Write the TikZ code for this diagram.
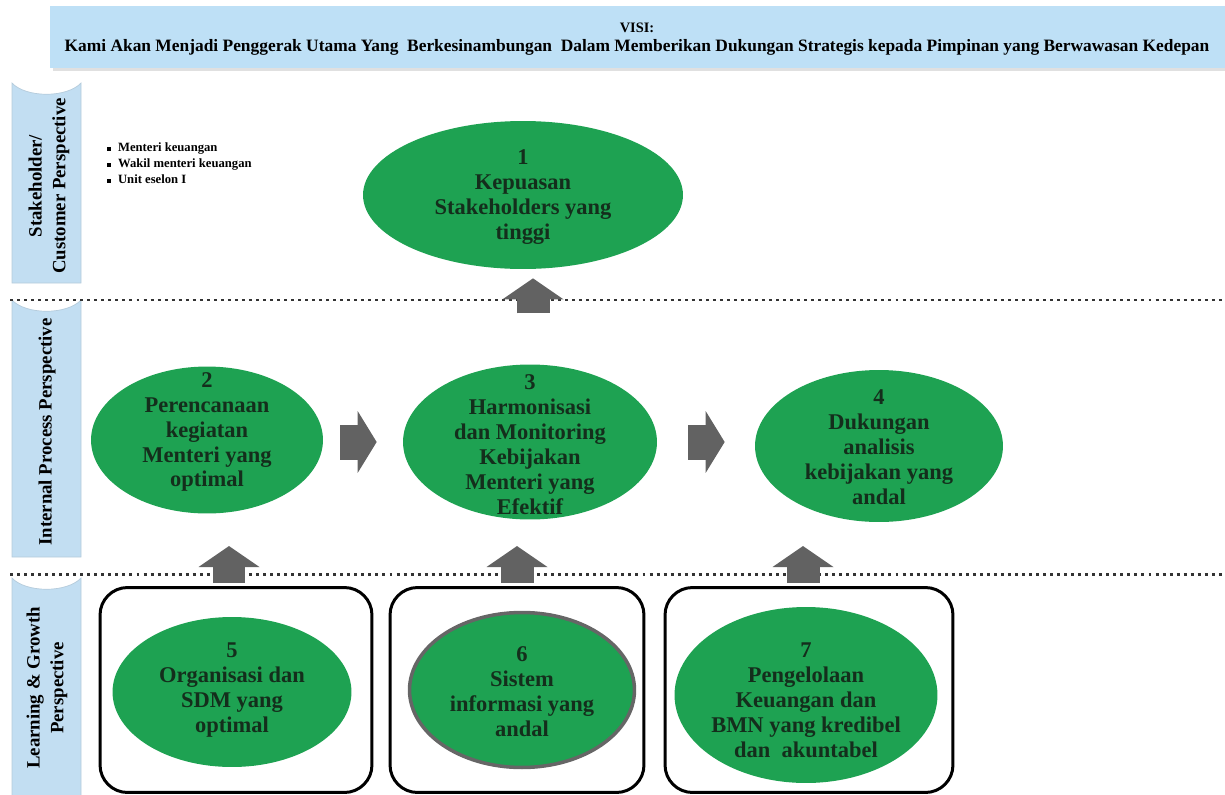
\documentclass[tikz,border=0pt]{standalone}
\usepackage{fontspec}
\setmainfont{Liberation Serif}
\usetikzlibrary{shapes.geometric,arrows.meta,calc,positioning}
\definecolor{goalgreen}{RGB}{30,162,82}
\definecolor{goalink}{RGB}{20,46,28}
\definecolor{barblue}{RGB}{194,222,242}
\definecolor{visiblue}{RGB}{190,224,246}
\definecolor{arrowgray}{RGB}{98,98,98}
\tikzset
{
    goal/.style         = {ellipse, fill=goalgreen, inner sep=0pt},
    goaltext/.style     = {align=center, text=goalink, font=\fontsize{12.8}{14.2}\selectfont\bfseries},
    holderbox/.style    = {draw=black, line width=1.7pt, rounded corners=0.55cm, minimum height=4.1cm},
    perspbar/.style     = {fill=barblue, draw=barblue!80!gray},
    perspcaption/.style = {rotate=90, align=center, font=\fontsize{10.7}{13.6}\selectfont\bfseries},
    dotline/.style      = {line width=1.7pt, dash pattern=on 1.7pt off 2.3pt, draw=black!80},
    uparrow/.style      = {draw=arrowgray, line width=0.66cm, -{Triangle[length=0.42cm, width=1.2cm]}},
    rightarrow/.style   = {draw=arrowgray, line width=0.7cm, -{Triangle[length=0.38cm, width=1.22cm]}}
}
\newcommand{\sqitem}{\raisebox{0.6pt}{\rule{2.2pt}{2.2pt}}\hspace{4pt}}

\begin{document}
\begin{tikzpicture}[x=0.02cm, y=-0.02cm]
\useasboundingbox (0,0) rectangle (1225,795);
\fill[black!12] (53,10) rectangle (1225,71);
\fill[visiblue] (50,6) rectangle (1225,68);
\node [font=\fontsize{8.2}{9}\selectfont\bfseries] at (637,28) (visi) {VISI:};
\node [font=\fontsize{9.9}{11}\selectfont\bfseries] at (637,47) (visiline) {Kami Akan Menjadi Penggerak Utama Yang~ Berkesinambungan~ Dalam Memberikan Dukungan Strategis kepada Pimpinan yang Berwawasan Kedepan};

\filldraw [perspbar] (12,83) .. controls (26,98) and (67,98) .. (81,83) -- (81,283) -- (12,283) -- cycle;
\filldraw [perspbar] (12,300) .. controls (26,315) and (67,315) .. (81,300) -- (81,557) -- (12,557) -- cycle;
\filldraw [perspbar] (12,578) .. controls (26,593) and (67,593) .. (81,578) -- (81,797) -- (12,797) -- cycle;
\node [perspcaption] at (49,186) (pstake) {Stakeholder/\\Customer Perspective};
\node [perspcaption] at (47,432) (pinternal) {Internal Process Perspective};
\node [perspcaption] at (47,688) (plearn) {Learning \& Growth\\Perspective};

\draw [dotline] (10,300) -- (1222,300);
\draw [dotline] (10,574) -- (1222,574);

\node [anchor=north west, align=left, font=\fontsize{7.2}{9}\selectfont\bfseries] at (101,137) (holders) {\sqitem Menteri keuangan\\\sqitem Wakil menteri keuangan\\\sqitem Unit eselon I};

\node [holderbox, minimum width=5.44cm] at (236,690) (b5) {};
\node [holderbox, minimum width=5.08cm] at (517,690) (b6) {};
\node [holderbox, minimum width=5.76cm] at (809,690) (b7) {};

\node [goal, minimum width=6.4cm, minimum height=2.96cm] at (523,195) (e1) {};
\node [goal, minimum width=4.64cm, minimum height=2.94cm] at (207,440) (e2) {};
\node [goal, minimum width=5.08cm, minimum height=3.1cm] at (530,442) (e3) {};
\node [goal, minimum width=4.96cm, minimum height=3.04cm] at (879,446) (e4) {};
\node [goal, minimum width=4.78cm, minimum height=3cm] at (232,692) (e5) {};
\node [goal, draw=black!60, line width=2pt, minimum width=4.5cm, minimum height=3.1cm] at (522,690) (e6) {};
\node [goal, minimum width=5.26cm, minimum height=3.52cm] at (806,695) (e7) {};

\node [goaltext] at (523,197) (t1) {1\\Kepuasan\\Stakeholders yang\\tinggi};
\node [goaltext] at (207,432) (t2) {2\\Perencanaan\\kegiatan\\Menteri yang\\optimal};
\node [goaltext] at (530,445) (t3) {3\\Harmonisasi\\dan Monitoring\\Kebijakan\\Menteri yang\\Efektif};
\node [goaltext] at (879,447) (t4) {4\\Dukungan\\analisis\\kebijakan yang\\andal};
\node [goaltext] at (232,690) (t5) {5\\Organisasi dan\\SDM yang\\optimal};
\node [goaltext] at (522,692) (t6) {6\\Sistem\\informasi yang\\andal};
\node [goaltext] at (806,700) (t7) {7\\Pengelolaan\\Keuangan dan\\BMN yang kredibel\\dan~ akuntabel};

\draw [uparrow] ($(e1.south)+(10,44)$) -- ($(e1.south)+(10,9)$);
\draw [rightarrow] ($(e2.east)+(17,2)$) -- ($(e3.west)+(-26,0)$);
\draw [rightarrow] ($(e3.east)+(31,0)$) -- ($(e4.west)+(-30,-4)$);
\draw [uparrow] ($(b5.north)+(-7,-3)$) -- ($(b5.north)+(-7,-40)$);
\draw [uparrow] ($(b6.north)+(0,-3)$) -- ($(b6.north)+(0,-40)$);
\draw [uparrow] ($(b7.north)+(-6,-3)$) -- ($(b7.north)+(-6,-40)$);
\end{tikzpicture}
\end{document}
